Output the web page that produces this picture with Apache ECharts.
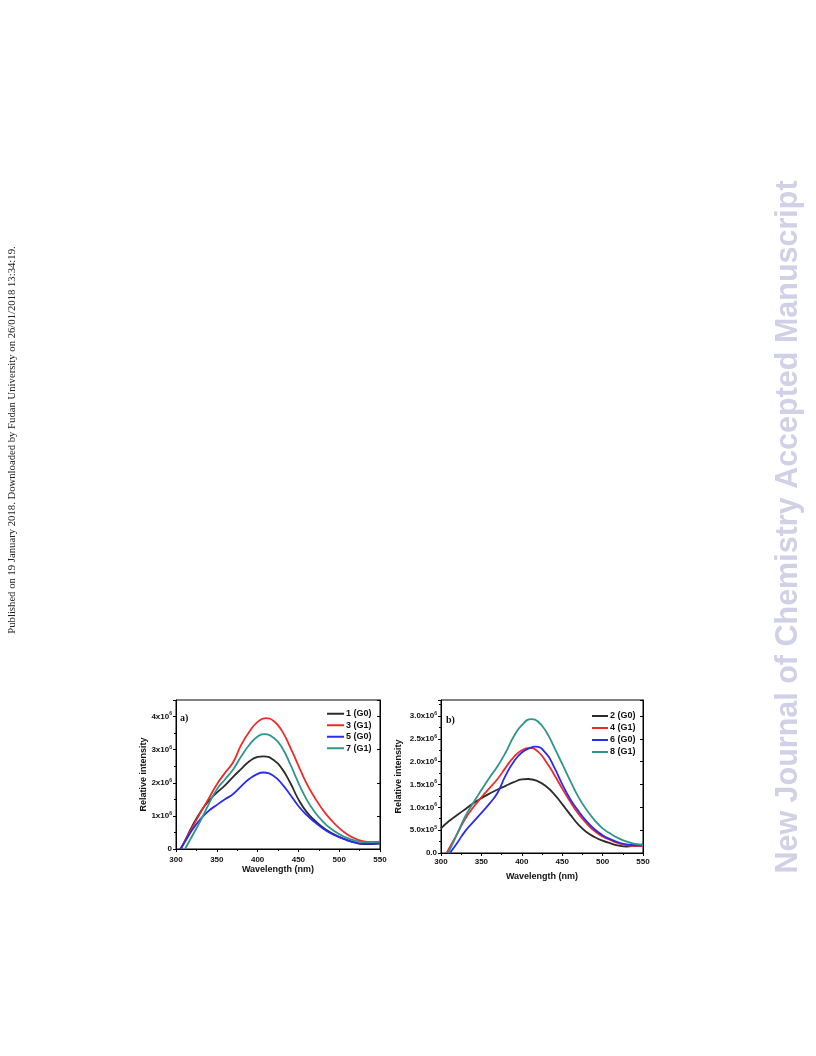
<!DOCTYPE html>
<html><head><meta charset="utf-8">
<script src="https://cdn.jsdelivr.net/npm/echarts@6/dist/echarts.min.js"></script>
<style>html,body{margin:0;padding:0;background:#fff}#c{width:816px;height:1056px}</style>
</head><body><div id="c"></div>
<script>
// Panel a) values in units of 10^6
const a1X = [306,310,320,330,340,350,360,370,380,390,400,407,420,430,440,450,460,470,480,490,500,510,520,530,540,550];
const a1Y = [0,0.2,0.7,1.12,1.45,1.7,1.92,2.18,2.42,2.65,2.78,2.8,2.68,2.42,2.0,1.5,1.12,0.86,0.65,0.49,0.37,0.27,0.19,0.15,0.15,0.17];
const a3X = [306,310,320,330,340,350,360,370,380,390,400,410,420,430,440,450,460,470,480,490,500,510,520,530,540,550];
const a3Y = [0,0.2,0.65,1.1,1.52,1.95,2.3,2.62,3.15,3.55,3.84,3.95,3.86,3.56,3.07,2.52,1.98,1.55,1.18,0.88,0.63,0.44,0.31,0.23,0.21,0.21];
const a5X = [305,310,320,330,340,350,360,370,380,390,400,407,420,430,440,450,460,470,480,490,500,510,520,530,540,550];
const a5Y = [0,0.18,0.58,0.9,1.15,1.33,1.5,1.66,1.9,2.12,2.27,2.31,2.2,1.96,1.64,1.3,1.03,0.81,0.62,0.47,0.36,0.26,0.19,0.16,0.16,0.17];
const a7X = [311,320,330,340,350,360,370,380,390,400,408,420,430,440,450,460,470,480,490,500,510,520,530,540,550];
const a7Y = [0,0.4,0.85,1.35,1.8,2.1,2.4,2.8,3.15,3.4,3.47,3.35,3.06,2.56,2.0,1.5,1.12,0.83,0.61,0.45,0.33,0.25,0.21,0.21,0.22];
// Panel b)
const b2X = [300,310,320,330,340,350,360,370,380,390,400,408,420,430,440,450,460,470,480,490,500,510,520,530,540,550];
const b2Y = [0.54,0.7,0.83,0.96,1.09,1.2,1.3,1.39,1.47,1.55,1.61,1.62,1.57,1.46,1.29,1.07,0.84,0.62,0.46,0.35,0.27,0.21,0.16,0.14,0.16,0.19];
const b4X = [307,310,320,330,340,350,360,370,380,390,400,410,420,430,440,450,460,470,480,490,500,510,520,530,540,550];
const b4Y = [0,0.1,0.42,0.75,1.0,1.22,1.42,1.62,1.87,2.1,2.25,2.3,2.22,2.0,1.72,1.41,1.12,0.86,0.65,0.48,0.36,0.28,0.21,0.17,0.15,0.15];
const b6X = [311,320,330,340,350,360,370,380,390,400,410,417,430,440,450,460,470,480,490,500,510,520,530,540,550];
const b6Y = [0,0.22,0.48,0.68,0.88,1.08,1.32,1.7,2.0,2.2,2.3,2.33,2.18,1.88,1.51,1.18,0.92,0.7,0.52,0.39,0.3,0.23,0.19,0.17,0.17];
const b8X = [309,320,330,340,350,360,370,380,390,400,412,420,430,440,450,460,470,480,490,500,510,520,530,540,550];
const b8Y = [0,0.42,0.8,1.1,1.38,1.65,1.9,2.2,2.55,2.8,2.93,2.88,2.66,2.32,1.95,1.58,1.23,0.95,0.72,0.54,0.42,0.32,0.25,0.2,0.18];

const namesA = ['1 (G0)','3 (G1)','5 (G0)','7 (G1)'];
const namesB = ['2 (G0)','4 (G1)','6 (G0)','8 (G1)'];

const BLACK='#2b2b2b', RED='#ee2a2a', BLUE='#2b2bef', TEAL='#2e958c';
const zip=(xs,ys)=>xs.map((x,i)=>[x,ys[i]]);
const FF='Liberation Sans, Arial, sans-serif';

function fmtA(v){ if(v===0) return '0'; return '{b|'+v+'x10}{s|6}'; }
function fmtB(v){ if(v===0) return '0.0'; if(v<1) return '{b|'+(v*10).toFixed(1)+'x10}{s|5}'; return '{b|'+v.toFixed(1)+'x10}{s|6}'; }
const rich={b:{fontFamily:FF,fontWeight:'bold',fontSize:8,color:'#111'},s:{fontFamily:FF,fontWeight:'bold',fontSize:5,color:'#111',verticalAlign:'top',padding:[0,0,5,0]}};

function xAx(gi){return {type:'value',gridIndex:gi,min:300,max:550,interval:50,
  name:'Wavelength (nm)',nameLocation:'middle',nameGap:gi===0?16:19,
  nameTextStyle:{fontFamily:FF,fontWeight:'bold',fontSize:9,color:'#111'},
  axisLine:{lineStyle:{color:'#000',width:1}},axisTick:{length:3,lineStyle:{color:'#000'}},
  minorTick:{show:true,splitNumber:2,length:2,lineStyle:{color:'#000'}},
  axisLabel:{fontFamily:FF,fontWeight:'bold',fontSize:8,color:'#111',margin:gi===0?7:5},splitLine:{show:false}};}
function xTop(gi){return {type:'value',gridIndex:gi,position:'top',min:300,max:550,interval:50,
  axisLine:{lineStyle:{color:'#000'}},axisTick:{inside:true,length:3,lineStyle:{color:'#000'}},axisLabel:{show:false},splitLine:{show:false}};}

const opt={
  animation:false,
  grid:[{left:176,right:436,top:700,bottom:207,show:true,borderColor:'#000',borderWidth:1},
        {left:441,right:173,top:700,bottom:203,show:true,borderColor:'#000',borderWidth:1}],
  xAxis:[xAx(0),xAx(1),xTop(0),xTop(1)],
  yAxis:[
    {type:'value',gridIndex:0,min:0,max:4.5,interval:1,name:'Relative intensity',nameLocation:'middle',nameGap:27,
     nameTextStyle:{fontFamily:FF,fontWeight:'bold',fontSize:9,color:'#111'},
     axisLine:{show:true,lineStyle:{color:'#000'}},axisTick:{show:true,length:3,lineStyle:{color:'#000'}},
     minorTick:{show:true,splitNumber:2,length:2,lineStyle:{color:'#000'}},
     axisLabel:{formatter:fmtA,rich:rich,showMaxLabel:false,fontFamily:FF,fontWeight:'bold',fontSize:8,color:'#111',margin:4},splitLine:{show:false}},
    {type:'value',gridIndex:1,min:0,max:3.35,interval:0.5,name:'Relative intensity',nameLocation:'middle',nameGap:38,
     nameTextStyle:{fontFamily:FF,fontWeight:'bold',fontSize:9,color:'#111'},
     axisLine:{show:true,lineStyle:{color:'#000'}},axisTick:{show:true,length:3,lineStyle:{color:'#000'}},
     minorTick:{show:true,splitNumber:2,length:2,lineStyle:{color:'#000'}},
     axisLabel:{formatter:fmtB,rich:rich,showMaxLabel:false,fontFamily:FF,fontWeight:'bold',fontSize:8,color:'#111',margin:4},splitLine:{show:false}},
    {type:'value',gridIndex:0,position:'right',min:0,max:4.5,interval:1,axisLine:{show:true,lineStyle:{color:'#000'}},
     axisTick:{show:true,inside:true,length:3,lineStyle:{color:'#000'}},axisLabel:{show:false},splitLine:{show:false}},
    {type:'value',gridIndex:1,position:'right',min:0,max:3.35,interval:0.5,axisLine:{show:true,lineStyle:{color:'#000'}},
     axisTick:{show:true,inside:true,length:3,lineStyle:{color:'#000'}},axisLabel:{show:false},splitLine:{show:false}}
  ],
  legend:[
    {data:namesA,orient:'vertical',left:327,top:708,padding:0,itemWidth:17,itemHeight:2,itemGap:0,icon:'rect',
     textStyle:{fontFamily:FF,fontWeight:'bold',fontSize:9,color:'#111',lineHeight:11.5,padding:[0,0,0,-3]}},
    {data:namesB,orient:'vertical',left:592,top:710,padding:0,itemWidth:16,itemHeight:2,itemGap:0,icon:'rect',
     textStyle:{fontFamily:FF,fontWeight:'bold',fontSize:9,color:'#111',lineHeight:12,padding:[0,0,0,-3]}}
  ],
  series:[
    {name:namesA[0],type:'line',xAxisIndex:0,yAxisIndex:0,data:zip(a1X,a1Y),color:BLACK},
    {name:namesA[1],type:'line',xAxisIndex:0,yAxisIndex:0,data:zip(a3X,a3Y),color:RED},
    {name:namesA[2],type:'line',xAxisIndex:0,yAxisIndex:0,data:zip(a5X,a5Y),color:BLUE},
    {name:namesA[3],type:'line',xAxisIndex:0,yAxisIndex:0,data:zip(a7X,a7Y),color:TEAL},
    {name:namesB[0],type:'line',xAxisIndex:1,yAxisIndex:1,data:zip(b2X,b2Y),color:BLACK},
    {name:namesB[1],type:'line',xAxisIndex:1,yAxisIndex:1,data:zip(b4X,b4Y),color:RED},
    {name:namesB[2],type:'line',xAxisIndex:1,yAxisIndex:1,data:zip(b6X,b6Y),color:BLUE},
    {name:namesB[3],type:'line',xAxisIndex:1,yAxisIndex:1,data:zip(b8X,b8Y),color:TEAL}
  ].map(s=>Object.assign(s,{smooth:0.5,showSymbol:false,symbol:'none',lineStyle:{width:1.8,color:s.color},itemStyle:{color:s.color}})),
  graphic:[
    {type:'text',left:180,top:713,style:{text:'a)',font:'bold 10px "Liberation Serif", "Times New Roman", serif',fill:'#111'}},
    {type:'text',left:446,top:715,style:{text:'b)',font:'bold 10px "Liberation Serif", "Times New Roman", serif',fill:'#111'}},
    {type:'text',x:12,y:440,rotation:Math.PI/2,style:{text:'Published on 19 January 2018. Downloaded by Fudan University on 26/01/2018 13:34:19.',
      font:'10.7px "Liberation Serif", "Times New Roman", serif',fill:'#222',align:'center',verticalAlign:'middle'}},
    {type:'text',x:789,y:527,rotation:Math.PI/2,style:{text:'New Journal of Chemistry Accepted Manuscript',
      font:'bold 30.5px "Liberation Sans", Arial, sans-serif',fill:'#d0d0e6',align:'center',verticalAlign:'middle'}}
  ]
};
const ch=echarts.init(document.getElementById('c'),null,{renderer:'canvas'});
ch.setOption(opt);
</script></body></html>
